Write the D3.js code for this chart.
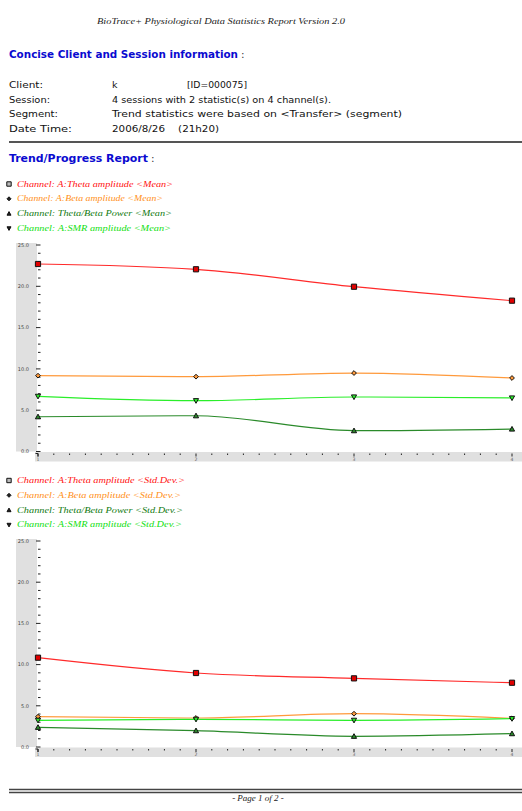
<!DOCTYPE html>
<html>
<head>
<meta charset="utf-8">
<script src="https://cdn.jsdelivr.net/npm/d3@7"></script>
<style>
  html, body { margin: 0; padding: 0; background: #fff; }
  svg { display: block; }
</style>
</head>
<body>
<svg id="page" width="522" height="811"></svg>
<script>
// Sessions on the x axis
const sessions = [1, 2, 3, 4];
const yTicks = [0, 5, 10, 15, 20, 25];

// Channel statistics: session means
const meanTheta = [22.7, 22.06, 19.95, 18.26];
const meanBeta = [9.18, 9.06, 9.5, 8.9];
const meanRatio = [4.21, 4.33, 2.52, 2.72];
const meanSMR = [6.68, 6.15, 6.6, 6.48];

// Channel statistics: session standard deviations
const sdTheta = [10.84, 8.98, 8.33, 7.8];
const sdBeta = [3.68, 3.52, 4.04, 3.48];
const sdRatio = [2.39, 1.98, 1.3, 1.62];
const sdSMR = [3.24, 3.36, 3.24, 3.44];

const channelNames = [
  "Channel: A:Theta amplitude",
  "Channel: A:Beta amplitude",
  "Channel:  Theta/Beta Power",
  "Channel: A:SMR amplitude"
];
const lineColors = ["#ff2a2a", "#ff9a3c", "#2a8a2a", "#2aee2a"];
const textColors = ["#ff1010", "#ff9020", "#107a10", "#10e010"];
const markerKinds = ["square", "diamond", "triangle", "triangleDown"];

const svg = d3.select("#page");
const sans = "'DejaVu Sans', Verdana, sans-serif";
const sansCond = "'DejaVu Sans Condensed', 'DejaVu Sans', sans-serif";
const serif = "'Liberation Serif', 'Times New Roman', serif";

// ---- page header ----
svg.append("text")
  .attr("x", 97).attr("y", 24)
  .attr("font-family", serif).attr("font-style", "italic").attr("font-size", 9)
  .attr("textLength", 248).attr("lengthAdjust", "spacingAndGlyphs")
  .attr("fill", "#222")
  .text("BioTrace+ Physiological Data  Statistics Report Version 2.0");

function heading(txt, y, len) {
  svg.append("text")
    .attr("x", 9).attr("y", y)
    .attr("font-family", sansCond).attr("font-weight", "bold").attr("font-size", 10.5)
    .attr("textLength", len).attr("lengthAdjust", "spacingAndGlyphs")
    .attr("fill", "#0a0ad0")
    .text(txt);
  svg.append("text")
    .attr("x", 9 + len + 3).attr("y", y)
    .attr("font-family", sans).attr("font-size", 10.5)
    .attr("fill", "#333")
    .text(":");
}
heading("Concise Client and Session information", 57.5, 229);

const infoRows = [
  { label: "Client:", lw: 34, y: 87.5 },
  { label: "Session:", lw: 41, y: 102.5 },
  { label: "Segment:", lw: 49, y: 117 },
  { label: "Date  Time:", lw: 63, y: 131.5 }
];
const infoVals = [
  { txt: "k", x: 112, w: null },
  { txt: "4 sessions with 2 statistic(s) on 4 channel(s).", x: 112, w: 219 },
  { txt: "Trend statistics were based on <Transfer> (segment)", x: 112, w: 290 },
  { txt: "2006/8/26    (21h20)", x: 112, w: 107 }
];
infoRows.forEach((r, i) => {
  svg.append("text")
    .attr("x", 9).attr("y", r.y)
    .attr("font-family", sans).attr("font-size", 9.5).attr("fill", "#111")
    .attr("textLength", r.lw).attr("lengthAdjust", "spacingAndGlyphs")
    .text(r.label);
  const v = svg.append("text")
    .attr("x", infoVals[i].x).attr("y", r.y)
    .attr("font-family", sans).attr("font-size", 9.5).attr("fill", "#111")
    .style("white-space", "pre")
    .text(infoVals[i].txt);
  if (infoVals[i].w) v.attr("textLength", infoVals[i].w).attr("lengthAdjust", "spacingAndGlyphs");
});
svg.append("text")
  .attr("x", 187).attr("y", 87.5)
  .attr("font-family", sans).attr("font-size", 9.5).attr("fill", "#111")
  .attr("textLength", 60).attr("lengthAdjust", "spacingAndGlyphs")
  .text("[ID=000075]");

svg.append("line")
  .attr("x1", 9).attr("x2", 522).attr("y1", 142).attr("y2", 142)
  .attr("stroke", "#555").attr("stroke-width", 2);

heading("Trend/Progress Report", 161.5, 139);

// ---- marker shapes ----
function markerPath(kind, size) {
  const s = size;
  if (kind === "square") return `M${-s},${-s}H${s}V${s}H${-s}Z`;
  if (kind === "diamond") return `M0,${-s}L${s},0L0,${s}L${-s},0Z`;
  if (kind === "triangle") return `M0,${-s}L${s},${s * 0.8}L${-s},${s * 0.8}Z`;
  return `M0,${s}L${s},${-s * 0.8}L${-s},${-s * 0.8}Z`;
}

// ---- legend ----
function legend(top, suffix, widths) {
  channelNames.forEach((name, i) => {
    const y = top + i * 14.8;
    svg.append("path")
      .attr("transform", `translate(9,${y - 2.5})`)
      .attr("d", markerPath(markerKinds[i], i === 0 ? 2.2 : 2))
      .attr("fill", i === 0 ? "#bbb" : "#222")
      .attr("stroke", "#111").attr("stroke-width", 1);
    svg.append("text")
      .attr("x", 17).attr("y", y)
      .attr("font-family", serif).attr("font-style", "italic").attr("font-size", 9)
      .attr("fill", textColors[i])
      .attr("textLength", widths[i]).attr("lengthAdjust", "spacingAndGlyphs")
      .text(name + " " + suffix);
  });
}

// ---- one trend chart ----
function trendChart(opts) {
  const x = d3.scaleLinear().domain([1, 4]).range([38, 512]);
  const y = d3.scaleLinear().domain([0, 25]).range([opts.bottom, opts.top]);
  const g = svg.append("g");

  // grey axis bands
  g.append("rect")
    .attr("x", 16).attr("y", y(25) - 2)
    .attr("width", 21).attr("height", y(0) - y(25) + 2)
    .attr("fill", "#e0e0e0");
  g.append("rect")
    .attr("x", 35).attr("y", y(0) + 0.5)
    .attr("width", 487).attr("height", 9.5)
    .attr("fill", "#e0e0e0");

  // y axis: minor tick per unit, major tick every 5
  const yAxis = g.append("g").attr("transform", "translate(37,0)");
  d3.range(0, 26).forEach(v => {
    const major = v % 5 === 0;
    yAxis.append("line")
      .attr("x1", major ? -1 : 1).attr("x2", 3.5)
      .attr("y1", y(v)).attr("y2", y(v))
      .attr("stroke", "#222").attr("stroke-width", 1);
  });
  yTicks.forEach(v => {
    yAxis.append("text")
      .attr("x", -8).attr("y", y(v) + 1.7)
      .attr("text-anchor", "end")
      .attr("font-family", sans).attr("font-size", 5).attr("fill", "#444")
      .text(d3.format(".1f")(v));
  });

  // x axis: ticks every tenth of a session
  const xAxis = g.append("g");
  d3.range(0, 31).forEach(k => {
    const v = 1 + k / 10;
    const major = k % 10 === 0;
    xAxis.append("line")
      .attr("x1", x(v)).attr("x2", x(v))
      .attr("y1", y(0) + 2).attr("y2", y(0) + (major ? 5 : 3.5))
      .attr("stroke", "#222").attr("stroke-width", 1);
  });
  // corner of the axes
  xAxis.append("path")
    .attr("d", `M${x(1) - 2.5},${y(0) + 2}H${x(1)}V${y(0) + 5}`)
    .attr("fill", "none").attr("stroke", "#222").attr("stroke-width", 1);
  sessions.forEach(s => {
    xAxis.append("text")
      .attr("x", x(s)).attr("y", y(0) + 9)
      .attr("text-anchor", "middle")
      .attr("font-family", sans).attr("font-size", 4.6).attr("fill", "#666")
      .text(s);
  });

  // series lines and markers
  const line = d3.line()
    .x((d, i) => x(sessions[i]))
    .y(d => y(d))
    .curve(d3.curveMonotoneX);
  opts.series.forEach((vals, i) => {
    g.append("path")
      .attr("d", line(vals))
      .attr("fill", "none")
      .attr("stroke", lineColors[i]).attr("stroke-width", 1.2);
  });
  opts.series.forEach((vals, i) => {
    vals.forEach((v, j) => {
      g.append("path")
        .attr("transform", `translate(${x(sessions[j])},${y(v)})`)
        .attr("d", markerPath(markerKinds[i], i === 1 ? 2.4 : 2.6))
        .attr("fill", i === 0 ? "#e00000" : lineColors[i])
        .attr("stroke", "#111").attr("stroke-width", 1);
    });
  });
}

legend(186.5, "<Mean>", [156, 146, 155, 154]);
trendChart({ top: 245, bottom: 451.5, series: [meanTheta, meanBeta, meanRatio, meanSMR] });

legend(483, "<Std.Dev.>", [168, 164, 166, 165]);
trendChart({ top: 541, bottom: 747, series: [sdTheta, sdBeta, sdRatio, sdSMR] });

// ---- page footer ----
svg.append("line")
  .attr("x1", 9).attr("x2", 522).attr("y1", 789.5).attr("y2", 789.5)
  .attr("stroke", "#444").attr("stroke-width", 1.4);
svg.append("line")
  .attr("x1", 9).attr("x2", 522).attr("y1", 792.5).attr("y2", 792.5)
  .attr("stroke", "#444").attr("stroke-width", 1.4);
svg.append("text")
  .attr("x", 258).attr("y", 800.5)
  .attr("text-anchor", "middle")
  .attr("font-family", serif).attr("font-style", "italic").attr("font-size", 9)
  .attr("fill", "#222")
  .text("- Page 1 of 2 -");
</script>
</body>
</html>
